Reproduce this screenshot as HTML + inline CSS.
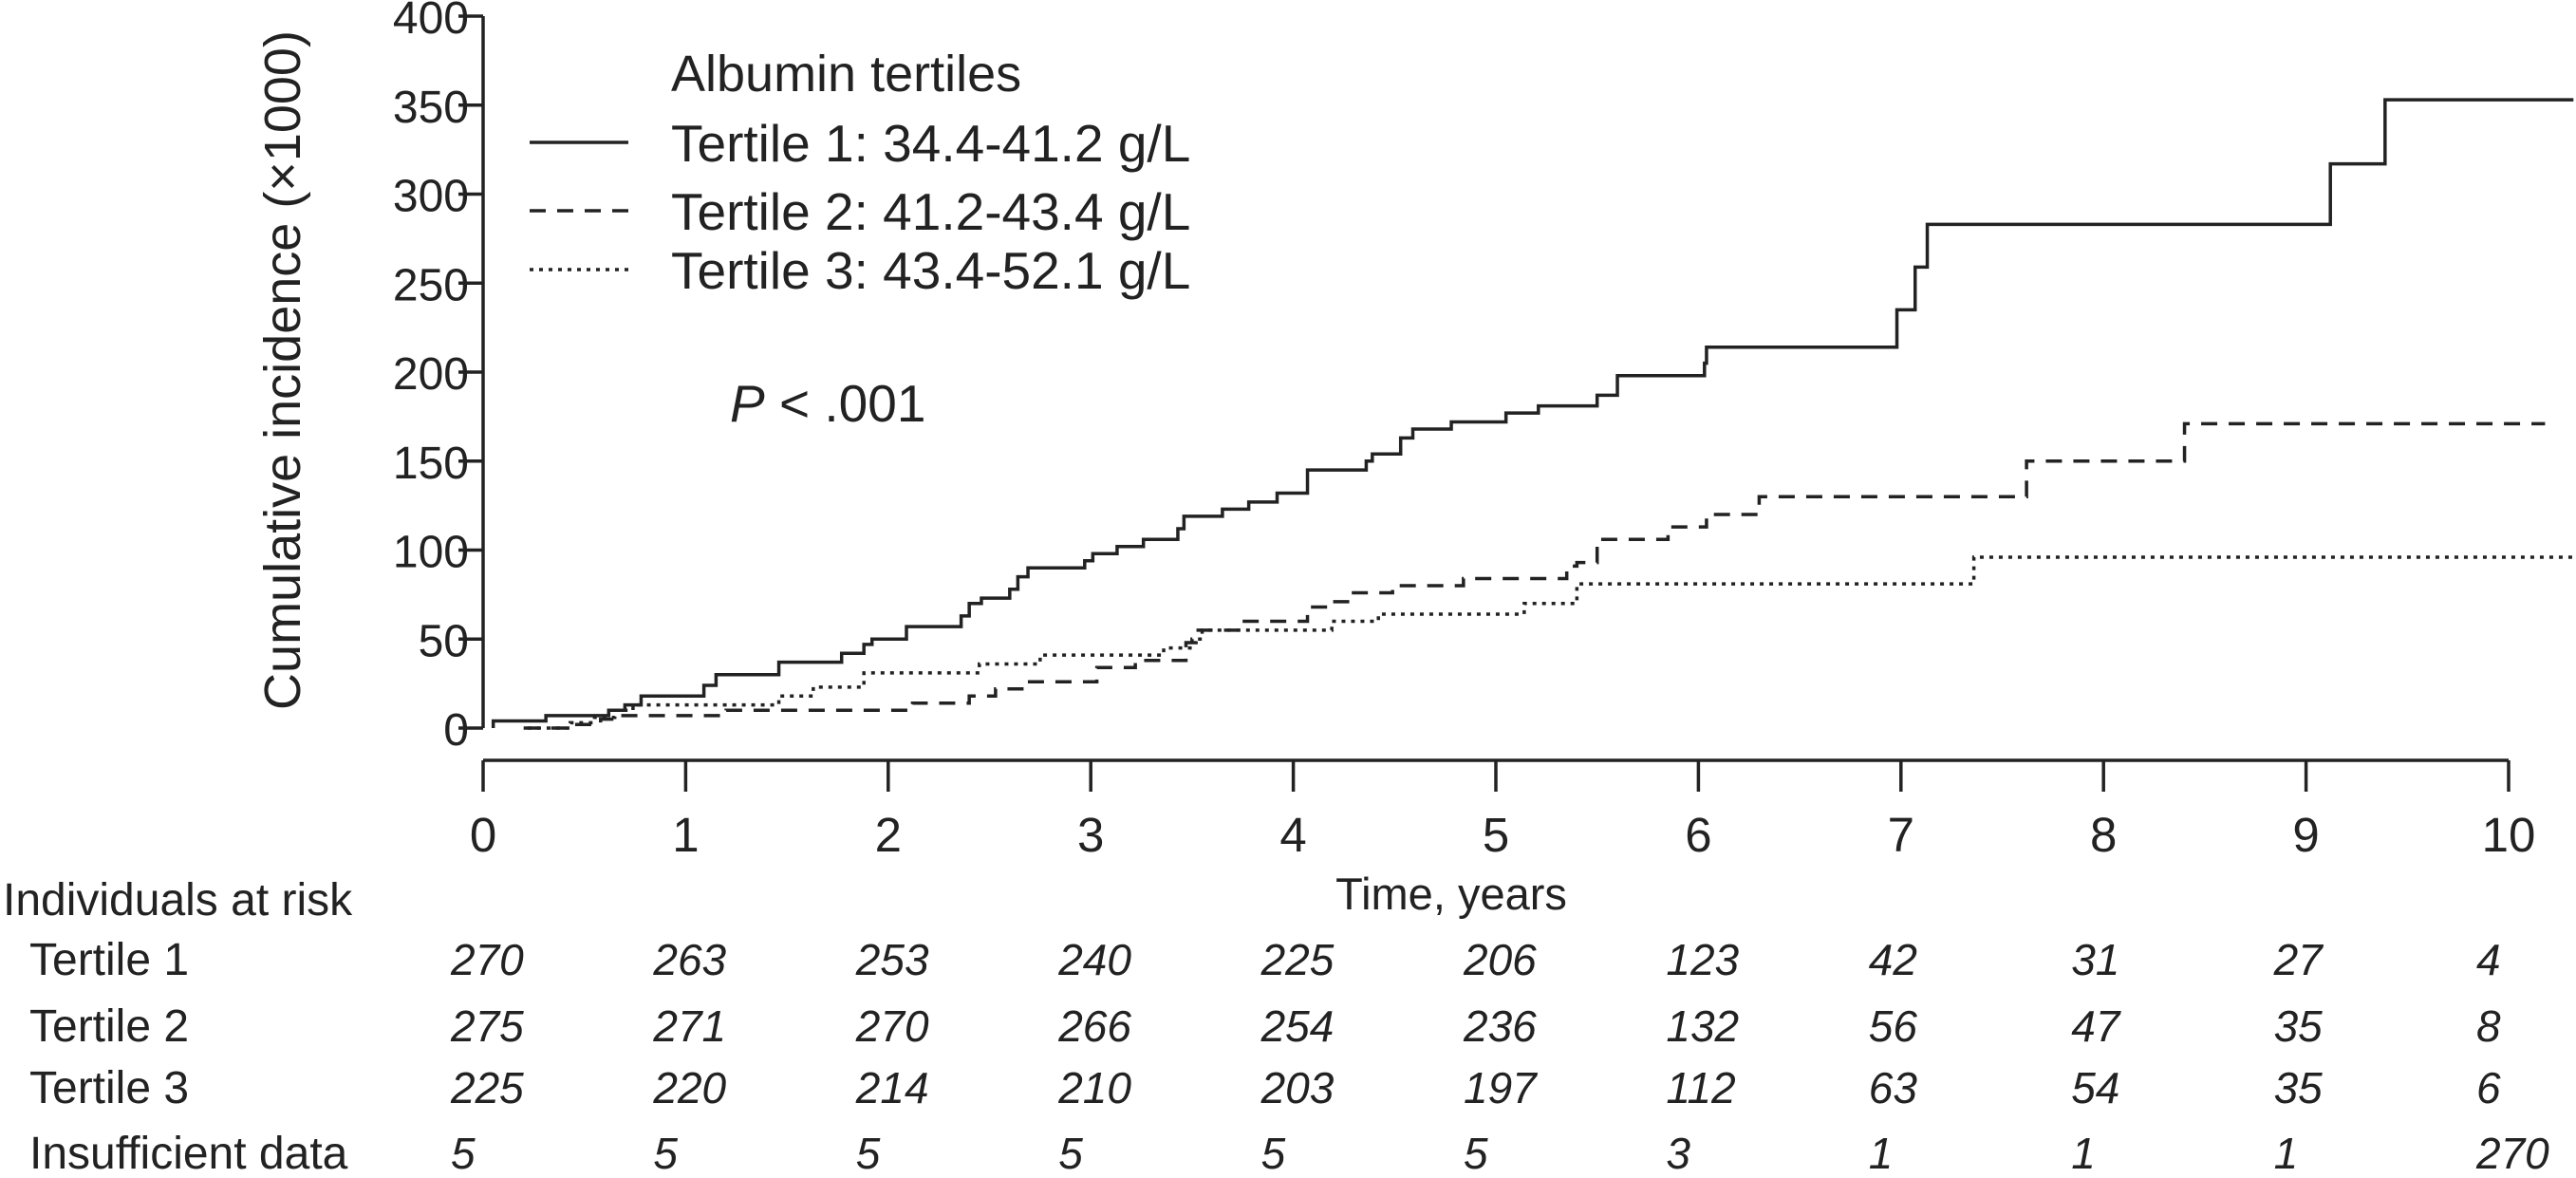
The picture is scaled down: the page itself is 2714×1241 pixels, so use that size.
<!DOCTYPE html>
<html><head><meta charset="utf-8"><style>
html,body{margin:0;padding:0;background:#fff;}
svg{display:block;font-family:"Liberation Sans",Arial,sans-serif;}
</style></head><body>
<svg id="chart" width="2714" height="1241" viewBox="0 0 2714 1241" xmlns="http://www.w3.org/2000/svg">
<g id="axes"></g>
<g id="series"></g>
<g id="legend">
  <text x="707" y="96" font-size="54" fill="#222">Albumin tertiles</text>
  <line x1="558" y1="150" x2="662" y2="150" stroke="#222" stroke-width="3.5"/>
  <text x="707" y="170" font-size="55" fill="#222">Tertile 1: 34.4-41.2 g/L</text>
  <line x1="558" y1="222" x2="662" y2="222" stroke="#222" stroke-width="3.5" stroke-dasharray="17,12"/>
  <text x="707" y="242" font-size="55" fill="#222">Tertile 2: 41.2-43.4 g/L</text>
  <line x1="558" y1="284" x2="662" y2="284" stroke="#222" stroke-width="3.5" stroke-dasharray="4,6"/>
  <text x="707" y="304" font-size="55" fill="#222">Tertile 3: 43.4-52.1 g/L</text>
</g>
<text x="769" y="444" font-size="55" fill="#222"><tspan font-style="italic">P</tspan> &lt; .001</text>
<text transform="translate(316,390) rotate(-90)" text-anchor="middle" font-size="54" fill="#222">Cumulative incidence (×1000)</text>
<text x="1529" y="958" text-anchor="middle" font-size="47" fill="#222">Time, years</text>
<g id="risk"></g>
</svg>
<script>
const xTicks = [0,1,2,3,4,5,6,7,8,9,10];
const yTicks = [0,50,100,150,200,250,300,350,400];
const t1Times = [0.05,0.31,0.62,0.70,0.78,1.09,1.15,1.46,1.77,1.88,1.92,2.09,2.36,2.40,2.46,2.60,2.64,2.69,2.97,3.01,3.13,3.26,3.43,3.46,3.65,3.78,3.92,4.07,4.36,4.39,4.53,4.59,4.78,5.05,5.21,5.50,5.60,6.03,6.04,6.98,7.07,7.13,9.12,9.39];
const t1Values = [4,7,10,13,18,24,30,37,42,47,50,57,63,70,73,78,85,90,94,98,102,106,112,119,123,127,132,145,150,154,163,168,172,177,181,187,198,205,214,235,259,283,317,353];
const t2Times = [0.20,0.41,0.58,0.67,1.20,2.12,2.40,2.53,2.68,3.03,3.22,3.47,3.52,3.74,4.07,4.17,4.28,4.49,4.84,5.35,5.40,5.50,5.85,6.04,6.30,7.62,8.40];
const t2Values = [0,2,5,7,10,14,18,22,26,34,38,48,55,60,68,71,76,80,84,91,93,106,113,120,130,150,171];
const t3Times = [0.22,0.43,0.55,0.65,0.74,1.46,1.63,1.88,2.45,2.75,3.36,3.50,3.55,4.19,4.42,5.14,5.40,7.36];
const t3Values = [0,3,6,10,13,18,23,31,36,41,45,50,55,60,64,70,81,96];
const t1End = 10.32, t2End = 10.18, t3End = 10.32;
const riskLabels = ["Tertile 1","Tertile 2","Tertile 3","Insufficient data"];
const riskT1 = [270,263,253,240,225,206,123,42,31,27,4];
const riskT2 = [275,271,270,266,254,236,132,56,47,35,8];
const riskT3 = [225,220,214,210,203,197,112,63,54,35,6];
const riskInsuf = [5,5,5,5,5,5,3,1,1,1,270];

const X0=509, XS=213.4, Y0=767, YS=750/400;
function xs(t){return X0+t*XS;}
function ys(v){return Y0-v*YS;}
const NS="http://www.w3.org/2000/svg";
function mk(tag,attrs,parent){const e=document.createElementNS(NS,tag);for(const k in attrs)e.setAttribute(k,attrs[k]);parent.appendChild(e);return e;}
const axes=document.getElementById('axes');
let e=mk('line',{x1:xs(0),y1:ys(0),x2:xs(0),y2:ys(400),stroke:'#222','stroke-width':3.5},axes);


e=mk('line',{x1:xs(0),y1:801,x2:xs(10),y2:801,stroke:'#222','stroke-width':3.5},axes);


yTicks.forEach(v=>{
  const l=mk('line',{x1:xs(0)-26,y1:ys(v),x2:xs(0),y2:ys(v),stroke:'#222','stroke-width':3.5},axes);
  
  
  const t=mk('text',{x:494,y:ys(v)+18,'text-anchor':'end','font-size':48,fill:'#222'},axes);
  t.textContent=v;
  
  
});
xTicks.forEach(v=>{
  const l=mk('line',{x1:xs(v),y1:801,x2:xs(v),y2:834,stroke:'#222','stroke-width':3.5},axes);
  
  
  const t=mk('text',{x:xs(v),y:897,'text-anchor':'middle','font-size':51,fill:'#222'},axes);
  t.textContent=v;
  
  
});
function stepPath(times,vals,end){
  let d='M'+xs(times[0])+','+ys(0);
  for(let i=0;i<times.length;i++){d+=' H'+xs(times[i])+' V'+ys(vals[i]);}
  d+=' H'+xs(end);
  return d;
}
const ser=document.getElementById('series');
e=mk('path',{d:stepPath(t1Times,t1Values,t1End),fill:'none',stroke:'#222','stroke-width':3.5},ser);


e=mk('path',{d:stepPath(t2Times,t2Values,t2End),fill:'none',stroke:'#222','stroke-width':3.5,'stroke-dasharray':'17,12'},ser);


e=mk('path',{d:stepPath(t3Times,t3Values,t3End),fill:'none',stroke:'#222','stroke-width':3.5,'stroke-dasharray':'4,6'},ser);



const risk=document.getElementById('risk');
e=mk('text',{x:3,y:964,'font-size':48,fill:'#222'},risk);
e.textContent='Individuals at risk';


const rowsY=[1027,1097,1162,1231];
const rows=[riskT1,riskT2,riskT3,riskInsuf];
rows.forEach((r,i)=>{
  const lab=mk('text',{x:31,y:rowsY[i],'font-size':48,fill:'#222'},risk);
  lab.textContent=riskLabels[i];
  
  
  r.forEach((n,j)=>{
    const t=mk('text',{x:xs(xTicks[j])-34,y:rowsY[i],'font-size':46,'font-style':'italic',fill:'#222'},risk);
    t.textContent=n;
    
    
  });
});
</script>
</body></html>
